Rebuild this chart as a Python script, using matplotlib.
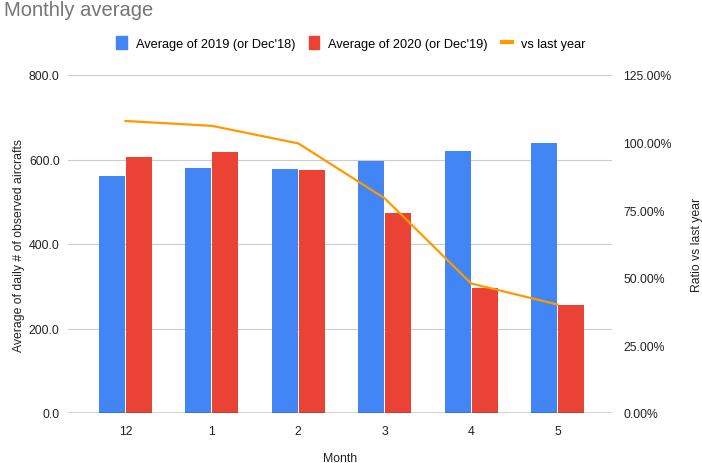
import matplotlib
matplotlib.use("Agg")
import matplotlib.pyplot as plt
import numpy as np
from matplotlib.ticker import FuncFormatter
from matplotlib.lines import Line2D
from matplotlib.patches import Patch

plt.rcParams['font.family'] = ['Liberation Sans', 'DejaVu Sans']

# 数据
months = ['12', '1', '2', '3', '4', '5']
avg_2019 = [560, 581, 577, 596, 620, 638]
avg_2020 = [605, 617, 575, 473, 297, 256]
ratio = [1.08, 1.062, 0.997, 0.794, 0.479, 0.401]

BLUE = '#4285F4'
RED = '#EA4335'
ORANGE = '#FF9900'

fig = plt.figure(figsize=(7.02, 4.64), dpi=100)
ax = fig.add_axes([68 / 702, 50 / 464, 544 / 702, 338 / 464])
ax2 = ax.twinx()

x = np.arange(len(months))
w = 0.31
ax.bar(x - w / 2, avg_2019, width=w * 0.97, color=BLUE, zorder=3)
ax.bar(x + w / 2, avg_2020, width=w * 0.97, color=RED, zorder=3)
ax2.plot(x, ratio, color=ORANGE, linewidth=1.6, zorder=4)

ax.set_xlim(-0.665, 5.63)
ax.set_ylim(0, 800)
ax.set_yticks([0, 200, 400, 600, 800])
ax.yaxis.set_major_formatter(FuncFormatter(lambda v, p: f'{v:.1f}'))
ax2.set_ylim(0, 1.25)
ax2.set_yticks([0, 0.25, 0.5, 0.75, 1.0, 1.25])
ax2.yaxis.set_major_formatter(FuncFormatter(lambda v, p: f'{v * 100:.2f}%'))

ax.set_xticks(x)
ax.set_xticklabels(months)

ax.grid(axis='y', color='#cccccc', linewidth=0.8, zorder=0)
for a in (ax, ax2):
    for s in a.spines.values():
        s.set_visible(False)
    a.tick_params(length=0, labelsize=8.8, colors='#222222')
ax.axhline(0, color='#333333', linewidth=1, zorder=5)
ax.tick_params(axis='y', pad=6)
ax2.tick_params(axis='y', pad=8)
ax.tick_params(axis='x', pad=9)

ax.set_ylabel('Average of daily # of observed aircrafts', fontsize=8.8, color='#222222', labelpad=3)
# 右侧轴标题放在图右边缘
fig.text(697 / 702, 1 - 245 / 464, 'Ratio vs last year', fontsize=8.8, color='#222222',
         rotation=90, ha='center', va='center')
# x轴标题直接放在图底部
fig.text(340 / 702, 1 - 459 / 464, 'Month', fontsize=8.8, color='#222222', ha='center', va='center')

fig.text(0.006, 0.998, 'Monthly average', fontsize=14.5, color='#757575', va='top', ha='left')

handles = [Patch(color=BLUE), Patch(color=RED), Line2D([], [], color=ORANGE, linewidth=3)]
labels = ["Average of 2019 (or Dec'18)", "Average of 2020 (or Dec'19)", 'vs last year']
fig.legend(handles, labels, loc='center', bbox_to_anchor=(351 / 702, 1 - 44 / 464), ncol=3,
           frameon=False, fontsize=9.2, handlelength=0.8, handleheight=1.1,
           columnspacing=1.1, handletextpad=0.7)

plt.savefig('out.png', dpi=100)
